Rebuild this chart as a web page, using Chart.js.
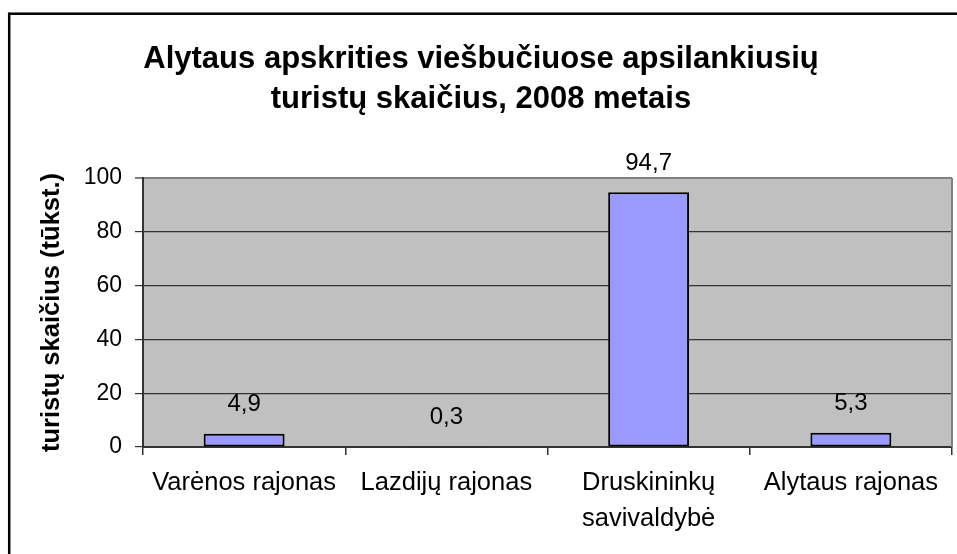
<!DOCTYPE html>
<html>
<head>
<meta charset="utf-8">
<script src="https://cdn.jsdelivr.net/npm/chart.js@4"></script>
<style>
  html, body { margin: 0; padding: 0; background: #fff; }
  #wrap { width: 957px; height: 554px; }
</style>
</head>
<body>
<div id="wrap"><canvas id="touristChart" width="957" height="554"></canvas></div>
<script>
const categories = ["Varėnos rajonas", "Lazdijų rajonas", ["Druskininkų", "savivaldybė"], "Alytaus rajonas"];
const touristValues = [4.9, 0.3, 94.7, 5.3];
const yTicks = [0, 20, 40, 60, 80, 100];
const titleLines = ["Alytaus apskrities viešbučiuose apsilankiusių", "turistų skaičius, 2008 metais"];
const yAxisTitle = "turistų skaičius (tūkst.)";

const FONT = "'Liberation Sans', Arial, sans-serif";

// grey plot area + frame round the whole chart
const chartFrame = {
    id: "chartFrame",
    beforeDatasetsDraw(chart) {
        const { ctx, chartArea: a } = chart;
        ctx.save();
        ctx.strokeStyle = "#808080";
        ctx.lineWidth = 2;
        ctx.beginPath();
        ctx.moveTo(a.right, a.top);
        ctx.lineTo(a.right, a.bottom);
        ctx.stroke();
        ctx.restore();
    },
    beforeDraw(chart) {
        const { ctx, chartArea: a } = chart;
        ctx.save();
        ctx.fillStyle = "#c0c0c0";
        ctx.fillRect(a.left, a.top, a.right - a.left, a.bottom - a.top);
        ctx.restore();
    },
    afterDraw(chart) {
        const ctx = chart.ctx;
        ctx.save();
        ctx.strokeStyle = "#000";
        ctx.lineWidth = 2.5;
        ctx.strokeRect(9.2, 13.7, 1000, 1000);
        ctx.restore();
    }
};

// value labels above the bars, with a decimal comma
const valueLabels = {
    id: "valueLabels",
    afterDatasetsDraw(chart) {
        const ctx = chart.ctx;
        const meta = chart.getDatasetMeta(0);
        ctx.save();
        ctx.font = "24px " + FONT;
        ctx.fillStyle = "#000";
        ctx.textAlign = "center";
        ctx.textBaseline = "middle";
        meta.data.forEach((bar, i) => {
            const txt = touristValues[i].toFixed(1).replace(".", ",");
            ctx.fillText(txt, bar.x, bar.y - 29);
        });
        ctx.restore();
    }
};

new Chart(document.getElementById("touristChart"), {
    type: "bar",
    data: {
        labels: categories,
        datasets: [{
            data: touristValues,
            backgroundColor: "#9999ff",
            borderColor: "#000",
            borderWidth: 2,
            borderSkipped: false,
            categoryPercentage: 1,
            barPercentage: 0.4
        }]
    },
    options: {
        responsive: false,
        animation: false,
        layout: { padding: { left: 10, right: 5, top: 14, bottom: 0 } },
        plugins: {
            legend: { display: false },
            tooltip: { enabled: false },
            title: {
                display: true,
                text: titleLines,
                color: "#000",
                font: { family: FONT, size: 31, weight: "bold", lineHeight: "40px" },
                padding: { top: 25, bottom: 59 }
            }
        },
        scales: {
            x: {
                afterFit(scale) { scale.height = 107; },
                grid: {
                    offset: true,
                    drawOnChartArea: false,
                    tickLength: 8,
                    color: "#333",
                    lineWidth: 1.5
                },
                border: { color: "#333", width: 2 },
                ticks: {
                    color: "#000",
                    padding: 10,
                    maxRotation: 0,
                    autoSkip: false,
                    font: { family: FONT, size: 25.5, lineHeight: "36px" }
                }
            },
            y: {
                min: 0,
                max: 100,
                afterFit(scale) { scale.width = 133; },
                afterBuildTicks(scale) { scale.ticks = yTicks.map(v => ({ value: v })); },
                grid: {
                    tickLength: 8,
                    color: ctx => (ctx.tick && ctx.tick.value === 100) ? "#808080" : "#333",
                    lineWidth: ctx => (ctx.tick && ctx.tick.value === 100) ? 2 : 1.2
                },
                border: { color: "#333", width: 2 },
                ticks: {
                    color: "#000",
                    padding: 13,
                    font: { family: FONT, size: 23 }
                },
                title: {
                    display: true,
                    text: yAxisTitle,
                    color: "#000",
                    font: { family: FONT, size: 25.5, weight: "bold" },
                    padding: { top: 27, bottom: 0 }
                }
            }
        }
    },
    plugins: [chartFrame, valueLabels]
});
</script>
</body>
</html>
